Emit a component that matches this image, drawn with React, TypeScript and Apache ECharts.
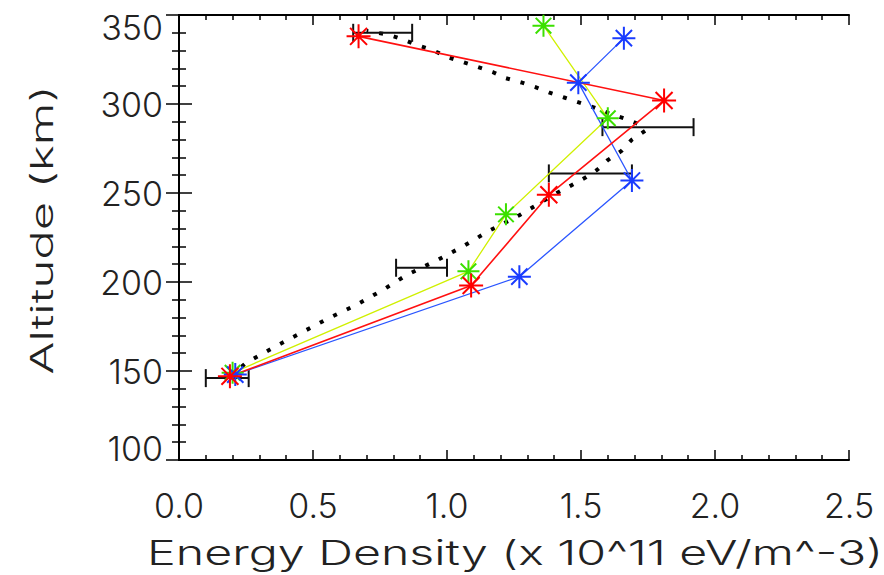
import React, { useEffect, useRef } from "react";
import * as echarts from "echarts";

// Tick labels
const xTickLabels = ["0.0", "0.5", "1.0", "1.5", "2.0", "2.5"];
const yTickLabels = ["100", "150", "200", "250", "300", "350"];
const xTitle = "Energy Density (x 10^11 eV/m^-3)";
const yTitle = "Altitude (km)";

// Red profile
const redX = [0.19, 1.09, 1.38, 1.81, 0.67];
const redY = [147, 198, 249, 302, 338];
// Green profile
const greenX = [0.2, 1.08, 1.22, 1.6, 1.36];
const greenY = [149, 206, 238, 292, 344];
// Blue profile
const blueX = [0.21, 1.27, 1.69, 1.49, 1.66];
const blueY = [148, 203, 257, 312, 337];

// Error bars (horizontal)
const errY = [146, 208, 261, 287, 340];
const errLo = [0.1, 0.81, 1.38, 1.58, 0.65];
const errHi = [0.26, 1.0, 1.69, 1.92, 0.87];

// Black dotted model curve
const modelX = [0.19, 0.25, 0.35, 0.45, 0.55, 0.66, 0.76, 0.85, 0.96, 1.06, 1.16, 1.27, 1.32, 1.41, 1.46, 1.52, 1.56, 1.6, 1.65, 1.69, 1.74, 1.71, 1.66, 1.6, 1.55, 1.5, 1.44, 1.38, 1.33, 1.28, 1.22, 1.17, 1.11, 1.06, 1.0, 0.95, 0.89, 0.84, 0.78, 0.7];
const modelY = [147, 154.5, 163, 171, 179, 187, 195.5, 204, 212, 220, 229, 237.5, 242, 250, 254, 259, 263, 268.5, 273.5, 280, 285, 289, 292, 295, 298, 300.5, 303.5, 306.5, 309.5, 312, 314.5, 318, 321, 323.5, 326.5, 330, 333, 336, 339, 341];

const STAR = "path://M10,0L10,20M0,10L20,10M2.93,2.93L17.07,17.07M2.93,17.07L17.07,2.93";
const FONT = "Inter, 'DejaVu Sans', sans-serif";
const WEIGHT = 300;
const TXT = "#222";

const zip = (xs: number[], ys: number[]) => xs.map((x, i) => [x, ys[i]]);

export default function App() {
  const ref = useRef<HTMLDivElement>(null);
  useEffect(() => {
    if (!ref.current) return;
    const chart = echarts.init(ref.current, null, { renderer: "svg" });
    const axisLine = { show: true, lineStyle: { color: "#000", width: 2 } };
    const labelStyle = { fontSize: 34, fontFamily: FONT, fontWeight: WEIGHT as any, color: TXT };
    const xBase = {
      type: "value" as const,
      min: 0,
      max: 2.5,
      interval: 0.5,
      axisLine,
      splitLine: { show: false },
      axisTick: { show: true, inside: true, length: 10, lineStyle: { color: "#000", width: 1.5 } },
      minorTick: { show: true, splitNumber: 5, length: 5, lineStyle: { color: "#000", width: 1.5 } },
    };
    const yBase = {
      type: "value" as const,
      min: 100,
      max: 350,
      interval: 50,
      axisLine,
      splitLine: { show: false },
      axisTick: { show: true, inside: true, length: 13, lineStyle: { color: "#000", width: 1.5 } },
      minorTick: { show: true, splitNumber: 5, length: 7, lineStyle: { color: "#000", width: 1.5 } },
    };
    const starSeries = (name: string, xs: number[], ys: number[], lineColor: string, markColor: string, size: number, lw: number) => ({
      name,
      type: "line",
      data: zip(xs, ys),
      symbol: STAR,
      symbolSize: size,
      showAllSymbol: true,
      clip: false,
      lineStyle: { color: lineColor, width: lw },
      itemStyle: { color: "none", borderColor: markColor, borderWidth: 2 },
      z: 5,
    });
    chart.setOption({
      animation: false,
      grid: { left: 179, top: 15, right: 35, bottom: 115 },
      graphic: [
        {
          type: "text",
          x: 515,
          y: 553,
          scaleX: 1.42,
          style: { text: xTitle, fontSize: 34, fontFamily: FONT, fontWeight: WEIGHT, fill: TXT, align: "center", verticalAlign: "middle" },
        },
        {
          type: "text",
          x: 42,
          y: 230,
          rotation: Math.PI / 2,
          scaleX: 1.58,
          style: { text: yTitle, fontSize: 31, fontFamily: FONT, fontWeight: WEIGHT, fill: TXT, align: "center", verticalAlign: "middle" },
        },
      ],
      xAxis: [
        {
          ...xBase,
          position: "bottom",
          axisLabel: { ...labelStyle, margin: 28, formatter: (v: number) => xTickLabels[Math.round(v / 0.5)] },
        },
        { ...xBase, position: "top", axisLabel: { show: false } },
      ],
      yAxis: [
        {
          ...yBase,
          position: "left",
          axisLabel: {
            ...labelStyle,
            margin: 16,
            formatter: (v: number) => {
              const i = Math.round((v - 100) / 50);
              const s = yTickLabels[i];
              if (i === yTickLabels.length - 1) return "{top|" + s + "}";
              if (i === 0) return "{bot|" + s + "}";
              return s;
            },
            rich: {
              top: { ...labelStyle, padding: [24, 0, 0, 0] },
              bot: { ...labelStyle, padding: [0, 0, 24, 0] },
            },
          },
        },
        { ...yBase, position: "right", axisLabel: { show: false } },
      ],
      series: [
        {
          name: "model",
          type: "line",
          data: zip(modelX, modelY),
          showSymbol: false,
          symbol: "none",
          lineStyle: { color: "#000", width: 4, type: [4, 11], cap: "butt" },
          z: 2,
        },
        {
          name: "errors",
          type: "custom",
          data: errY.map((y, i) => [errLo[i], errHi[i], y]),
          encode: { x: [0, 1], y: 2 },
          renderItem: (params: any, api: any) => {
            const lo = api.coord([api.value(0), api.value(2)]);
            const hi = api.coord([api.value(1), api.value(2)]);
            const st = { stroke: "#111", lineWidth: 2 };
            return {
              type: "group",
              children: [
                { type: "line", shape: { x1: lo[0], y1: lo[1], x2: hi[0], y2: hi[1] }, style: st },
                { type: "line", shape: { x1: lo[0], y1: lo[1] - 9, x2: lo[0], y2: lo[1] + 9 }, style: st },
                { type: "line", shape: { x1: hi[0], y1: hi[1] - 9, x2: hi[0], y2: hi[1] + 9 }, style: st },
              ],
            };
          },
          z: 3,
        },
        starSeries("green", greenX, greenY, "#d0f000", "#3be000", 22, 1.3),
        starSeries("blue", blueX, blueY, "#2a55ff", "#1a3cff", 23, 1.3),
        starSeries("red", redX, redY, "#ff1010", "#ff0000", 24, 1.6),
      ],
    });
    return () => chart.dispose();
  }, []);
  return <div ref={ref} style={{ position: "fixed", left: 0, top: 0, width: 884, height: 575, background: "#fff" }} />;
}
